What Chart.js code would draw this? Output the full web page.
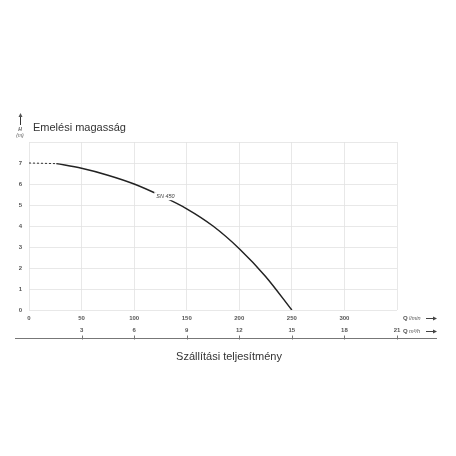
<!DOCTYPE html>
<html>
<head>
<meta charset="utf-8">
<script src="https://cdn.jsdelivr.net/npm/chart.js@4"></script>
<style>
  html, body { margin: 0; padding: 0; background: #fff; }
  #wrap { width: 456px; height: 456px; }
</style>
</head>
<body>
<div id="wrap"><canvas id="pumpChart" width="456" height="456"></canvas></div>
<script>
// flow in l/min, head in m
const dashedQ = [0, 26];
const dashedH = [7.0, 6.97];
const curveQ = [26, 50, 75, 100, 125, 150, 175, 200, 225, 250];
const curveH = [6.97, 6.75, 6.42, 6.0, 5.45, 4.82, 4.0, 2.92, 1.6, 0];
const qTicksLmin = [0, 50, 100, 150, 200, 250, 300];
const qTicksM3h = [3, 6, 9, 12, 15, 18, 21];
const hTicks = [0, 1, 2, 3, 4, 5, 6, 7];
const seriesName = "SN 450";
const labelPoint = { q: 121, h: 5.42 };

const tickFont = { family: "Liberation Sans, Arial, sans-serif", size: 6, weight: "bold" };

const extras = {
  id: "extras",
  afterDraw(chart) {
    const ctx = chart.ctx;
    const x = chart.scales.x;
    const y = chart.scales.y;
    const x2 = chart.scales.x2;
    ctx.save();

    // series name on the curve
    ctx.font = "italic 5.5px 'Liberation Sans', Arial, sans-serif";
    const lx = x.getPixelForValue(labelPoint.q);
    const ly = y.getPixelForValue(labelPoint.h);
    const tw = ctx.measureText(seriesName).width;
    ctx.fillStyle = "#fff";
    ctx.fillRect(lx - 2, ly - 4, tw + 4, 8);
    ctx.fillStyle = "#444";
    ctx.textBaseline = "middle";
    ctx.fillText(seriesName, lx, ly);

    // titles
    ctx.fillStyle = "#333";
    ctx.font = "11px 'Liberation Sans', Arial, sans-serif";
    ctx.textAlign = "left";
    ctx.textBaseline = "alphabetic";
    ctx.fillText("Emelési magasság", 33, 131);
    ctx.textAlign = "center";
    ctx.fillText("Szállítási teljesítmény", 229, 360);

    // H (m) with arrow
    ctx.fillStyle = "#555";
    ctx.strokeStyle = "#333";
    ctx.lineWidth = 1;
    ctx.beginPath();
    ctx.moveTo(20.5, 125);
    ctx.lineTo(20.5, 115);
    ctx.stroke();
    ctx.beginPath();
    ctx.moveTo(18.5, 117);
    ctx.lineTo(20.5, 113);
    ctx.lineTo(22.5, 117);
    ctx.closePath();
    ctx.fill();
    ctx.font = "italic bold 5px 'Liberation Sans', Arial, sans-serif";
    ctx.textBaseline = "middle";
    ctx.fillText("H", 20, 130);
    ctx.font = "italic 5px 'Liberation Sans', Arial, sans-serif";
    ctx.fillText("(m)", 20, 136);

    // second flow axis line with tick marks
    const lineY = 338.5;
    ctx.strokeStyle = "#777";
    ctx.lineWidth = 1.2;
    ctx.beginPath();
    ctx.moveTo(15, lineY);
    ctx.lineTo(437, lineY);
    ctx.stroke();
    ctx.lineWidth = 1;
    qTicksM3h.forEach(v => {
      const px = Math.round(x2.getPixelForValue(v)) + 0.5;
      ctx.beginPath();
      ctx.moveTo(px, lineY - 3);
      ctx.lineTo(px, lineY + 1);
      ctx.stroke();
    });

    // unit labels with arrows
    ctx.fillStyle = "#555";
    ctx.textAlign = "left";
    ctx.textBaseline = "middle";
    const units = [["l/min", 318], ["m³/h", 331]];
    units.forEach(([u, yy]) => {
      ctx.font = "bold 6px 'Liberation Sans', Arial, sans-serif";
      ctx.fillText("Q", 403, yy);
      ctx.font = "italic 5.5px 'Liberation Sans', Arial, sans-serif";
      ctx.fillText(u, 409, yy);
      ctx.strokeStyle = "#444";
      ctx.beginPath();
      ctx.moveTo(426, yy + 0.5);
      ctx.lineTo(435, yy + 0.5);
      ctx.stroke();
      ctx.beginPath();
      ctx.moveTo(433, yy - 1.5);
      ctx.lineTo(437, yy + 0.5);
      ctx.lineTo(433, yy + 2.5);
      ctx.closePath();
      ctx.fillStyle = "#444";
      ctx.fill();
      ctx.fillStyle = "#555";
    });

    ctx.restore();
  }
};

new Chart(document.getElementById("pumpChart"), {
  type: "line",
  data: {
    datasets: [
      {
        data: dashedQ.map((q, i) => ({ x: q, y: dashedH[i] })),
        borderColor: "#333",
        borderWidth: 1,
        borderDash: [2, 2],
        pointRadius: 0,
        tension: 0
      },
      {
        label: seriesName,
        data: curveQ.map((q, i) => ({ x: q, y: curveH[i] })),
        borderColor: "#222",
        borderWidth: 1.5,
        pointRadius: 0,
        cubicInterpolationMode: "monotone"
      }
    ]
  },
  options: {
    responsive: false,
    animation: false,
    events: [],
    layout: { padding: { top: 142, right: 59, left: 0, bottom: 0 } },
    plugins: { legend: { display: false }, tooltip: { enabled: false } },
    scales: {
      x: {
        type: "linear",
        position: "bottom",
        min: 0,
        max: 350,
        afterFit: s => { s.height = 16; },
        afterBuildTicks: s => { s.ticks = qTicksLmin.concat([350]).map(v => ({ value: v })); },
        ticks: {
          color: "#555",
          font: tickFont,
          padding: 5,
          maxRotation: 0,
          callback: v => (qTicksLmin.includes(v) ? String(v) : "")
        },
        grid: { color: "#e2e2e2", lineWidth: 0.8, drawTicks: false },
        border: { display: false }
      },
      x2: {
        type: "linear",
        position: "bottom",
        min: 0,
        max: 21,
        afterFit: s => { s.height = 130; },
        afterBuildTicks: s => { s.ticks = qTicksM3h.map(v => ({ value: v })); },
        ticks: {
          color: "#555",
          font: tickFont,
          padding: 1,
          maxRotation: 0
        },
        grid: { display: false, drawTicks: false },
        border: { display: false }
      },
      y: {
        min: 0,
        max: 8,
        afterFit: s => { s.width = 29; },
        afterBuildTicks: s => { s.ticks = hTicks.concat([8]).map(v => ({ value: v })); },
        ticks: {
          color: "#555",
          font: tickFont,
          padding: 7,
          callback: v => (hTicks.includes(v) ? String(v) : "")
        },
        grid: { color: "#e2e2e2", lineWidth: 0.8, drawTicks: false },
        border: { display: false }
      }
    }
  },
  plugins: [extras]
});
</script>
</body>
</html>
